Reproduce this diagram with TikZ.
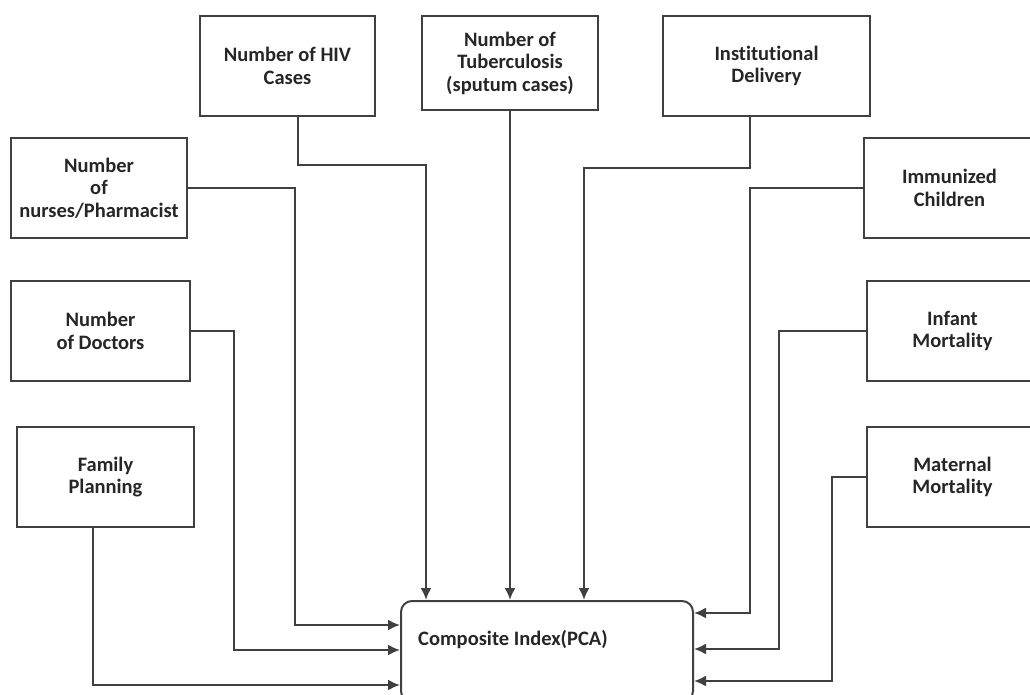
\documentclass[tikz,border=0pt]{standalone}
\usepackage{fontspec}
\setmainfont{Carlito}[Ligatures=NoCommon]
\usepackage{tikz}
\usetikzlibrary{arrows.meta,positioning}
\definecolor{linegray}{HTML}{404040}

\begin{document}
\begin{tikzpicture}[x=1pt,y=-1pt,
    font=\fontsize{20.5}{22.5}\selectfont\bfseries,
    factor/.style={draw=linegray,line width=2pt,minimum height=100pt,
      align=center,text=black!85,inner sep=2pt},
    index/.style={draw=linegray,line width=2pt,rounded corners=11pt,
      minimum width=292pt,minimum height=101pt},
    feed/.style={-{Latex[length=12pt,width=11pt]},line width=2pt,linegray},
    caption/.style={inner sep=0pt,text=black!85}
  ]
    \useasboundingbox (0,0) rectangle (1030,695);

    % top row
    \node[factor,minimum width=175pt,anchor=north west] (hiv) at (199,15) {Number of HIV\\Cases};
    \node[factor,minimum width=176pt,minimum height=94pt,anchor=north west] (tb) at (421,15)
      {Number of\\Tuberculosis\\(sputum cases)};
    \node[factor,minimum width=207pt,anchor=north west] (inst) at (662,15) {Institutional\\Delivery};

    % left column
    \node[factor,minimum width=176pt,anchor=north west] (nurse) at (10,137)
      {Number\\of\\nurses/Pharmacist};
    \node[factor,minimum width=179pt,below=41pt of nurse,xshift=1.5pt] (doc) {Number\\of Doctors};
    \node[factor,minimum width=177pt,below=44pt of doc,xshift=5pt] (fam) {Family\\Planning};

    % right column
    \node[factor,minimum width=171pt,anchor=north west] (imm) at (863,137) {Immunized\\Children};
    \node[factor,minimum width=171pt,below=41pt of imm,xshift=3pt] (inf) {Infant\\Mortality};
    \node[factor,minimum width=171pt,below=44pt of inf] (mat) {Maternal\\Mortality};

    % composite index
    \node[index,anchor=north west] (ci) at (400,600) {};
    \node[caption,anchor=west] (citext) at ([xshift=18pt,yshift=-39pt]ci.north west)
      {Composite Index(PCA)};

    % from above
    \draw[feed] ([xshift=10.5pt]hiv.south) -- ++(0,48) -| ([xshift=26pt]ci.north west);
    \draw[feed] (tb.south) -- (tb.south |- ci.north);
    \draw[feed] ([xshift=-16.5pt]inst.south) -- ++(0,51) -| ([xshift=184pt]ci.north west);

    % from the left
    \draw[feed] (nurse.east) -- ++(107,0) |- ([yshift=-25pt]ci.north west);
    \draw[feed] (doc.east) -- ++(43,0) |- ([yshift=-50pt]ci.north west);
    \draw[feed] ([xshift=-12.5pt]fam.south) |- ([yshift=-85pt]ci.north west);

    % from the right
    \draw[feed] (imm.west) -- ++(-113,0) |- ([yshift=-13pt]ci.north east);
    \draw[feed] (inf.west) -- ++(-87,0) |- ([yshift=-49pt]ci.north east);
    \draw[feed] (mat.west) -- ++(-34,0) |- ([yshift=-81pt]ci.north east);
  \end{tikzpicture}
\end{document}
